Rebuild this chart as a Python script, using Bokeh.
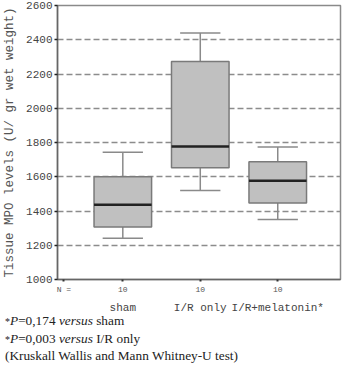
from bokeh.plotting import figure
from bokeh.models import Range1d, FixedTicker, LinearAxis, Div
from bokeh.layouts import column
from bokeh.embed import file_html
from bokeh.resources import INLINE

# ---- data ----
categories = ["sham", "I/R only", "I/R+melatonin*"]
n_values = [10, 10, 10]
lower_whisker = [1241, 1519, 1351]
q1 = [1306, 1653, 1447]
median = [1436, 1776, 1577]
q3 = [1600, 2273, 1687]
upper_whisker = [1743, 2439, 1774]
y_ticks = [1000, 1200, 1400, 1600, 1800, 2000, 2200, 2400, 2600]
n_label_pos = 0.24

x_pos = list(range(1, len(categories) + 1))
box_w = 0.743
cap_w = 0.52

MONO = "Liberation Mono"

p = figure(width=342, height=316, output_backend="svg", toolbar_location=None,
           x_range=Range1d(0.157, 3.81), y_range=Range1d(1000, 2600),
           min_border_left=50, min_border_right=2, min_border_top=5,
           min_border_bottom=0)
p.background_fill_color = "white"
p.border_fill_color = "white"
p.outline_line_color = "#8a8a8a"
p.outline_line_width = 1.5

# grid
p.xgrid.visible = False
p.ygrid.ticker = FixedTicker(ticks=y_ticks[1:-1])
p.ygrid.grid_line_color = "#8c8c8c"
p.ygrid.grid_line_dash = "6 3"
p.ygrid.grid_line_width = 1.3

# y axis
ya = p.yaxis[0]
ya.ticker = FixedTicker(ticks=y_ticks)
ya.axis_label = "Tissue MPO levels (U/ gr wet weight)"
ya.axis_label_text_font = MONO
ya.axis_label_text_font_size = "12.5px"
ya.axis_label_text_font_style = "normal"
ya.axis_label_text_color = "#555555"
ya.axis_label_standoff = 6
ya.major_label_text_font = MONO
ya.major_label_text_font_size = "11px"
ya.major_label_text_color = "#444444"
ya.major_label_standoff = 2
ya.major_tick_out = 3
ya.major_tick_in = 0
ya.major_tick_line_color = "#222222"
ya.major_tick_line_width = 1.5
ya.minor_tick_line_color = None
ya.axis_line_color = "#666666"
ya.axis_line_width = 1.5

# x axis 1: N values
xa = p.xaxis[0]
xa.ticker = FixedTicker(ticks=[n_label_pos] + x_pos)
overrides = {x: str(n) for x, n in zip(x_pos, n_values)}
overrides[n_label_pos] = "N ="
xa.major_label_overrides = overrides
xa.major_label_text_font = MONO
xa.major_label_text_font_size = "8px"
xa.major_label_text_color = "#555555"
xa.major_label_standoff = 3
xa.major_tick_out = 2
xa.major_tick_in = 0
xa.major_tick_line_color = "#333333"
xa.major_tick_line_width = 2
xa.minor_tick_line_color = None
xa.axis_line_color = "#666666"
xa.axis_line_width = 1.5
xa.axis_label_standoff = 0
xa.axis_label_text_font_size = "0px"

# x axis 2: category names
xa2 = LinearAxis(ticker=FixedTicker(ticks=x_pos),
                 major_label_overrides={x: c for x, c in zip(x_pos, categories)})
xa2.axis_line_color = None
xa2.major_tick_line_color = None
xa2.minor_tick_line_color = None
xa2.major_tick_out = 0
xa2.major_tick_in = 0
xa2.major_label_text_font = MONO
xa2.major_label_text_font_size = "11px"
xa2.major_label_text_color = "#444444"
xa2.major_label_standoff = 5
xa2.axis_label_standoff = 0
xa2.axis_label_text_font_size = "0px"
p.add_layout(xa2, "below")

# boxes
p.segment(x0=x_pos, x1=x_pos, y0=q3, y1=upper_whisker, line_color="#8a8a8a", line_width=1.5)
p.segment(x0=x_pos, x1=x_pos, y0=q1, y1=lower_whisker, line_color="#8a8a8a", line_width=1.5)
p.segment(x0=[x - cap_w / 2 for x in x_pos], x1=[x + cap_w / 2 for x in x_pos],
          y0=upper_whisker, y1=upper_whisker, line_color="#8a8a8a", line_width=1.5)
p.segment(x0=[x - cap_w / 2 for x in x_pos], x1=[x + cap_w / 2 for x in x_pos],
          y0=lower_whisker, y1=lower_whisker, line_color="#8a8a8a", line_width=1.5)
p.vbar(x=x_pos, width=box_w, bottom=q1, top=q3, fill_color="#c0c0c0",
       line_color="#7a7a7a", line_width=1.5)
p.segment(x0=[x - box_w / 2 for x in x_pos], x1=[x + box_w / 2 for x in x_pos],
          y0=median, y1=median, line_color="#222222", line_width=2.5)

foot = Div(width=342, height=36, styles={"margin-top": "-3px"}, text=(
    '<div style="font-family:\'Liberation Serif\',serif;font-size:13.3px;'
    'line-height:16.5px;color:#222;white-space:nowrap">'
    '<span style="font-size:10px">*</span><i>P</i>=0,174 <i>versus</i> sham<br>'
    '<span style="font-size:10px">*</span><i>P</i>=0,003 <i>versus</i> I/R only<br>'
    '(Kruskall Wallis and Mann Whitney-U test)</div>'))

layout = column(p, foot, spacing=0)
open("out.html", "w").write(file_html(layout, INLINE))
